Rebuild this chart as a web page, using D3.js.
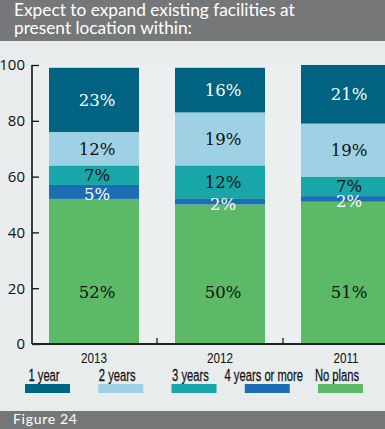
<!DOCTYPE html>
<html><head><meta charset="utf-8">
<script src="https://cdn.jsdelivr.net/npm/d3@7"></script>
<style>html,body{margin:0;padding:0;background:#e8ecec;}svg{display:block;}</style>
</head><body>
<svg id="chart" width="385" height="429"></svg>
<script>
const years = ["2013", "2012", "2011"];
const seriesNames = ["No plans", "4 years or more", "3 years", "2 years", "1 year"];
const noPlans = [52, 50, 51];
const fourYears = [5, 2, 2];
const threeYears = [7, 12, 7];
const twoYears = [12, 19, 19];
const oneYear = [23, 16, 21];
const yTicks = [0, 20, 40, 60, 80, 100];
const legendOrder = ["1 year", "2 years", "3 years", "4 years or more", "No plans"];
const colors = {"1 year":"#006381","2 years":"#9fd1e4","3 years":"#18a6a9","4 years or more":"#1c6db3","No plans":"#5cb968"};
const labelColors = {"1 year":"#fff","2 years":"#111","3 years":"#111","4 years or more":"#fff","No plans":"#111"};

const seriesValues = [noPlans, fourYears, threeYears, twoYears, oneYear];
const table = years.map((yr, i) => {
  const row = {year: yr};
  seriesNames.forEach((s, j) => row[s] = seriesValues[j][i]);
  return row;
});

const svg = d3.select("#chart");
const W = 385, H = 429;
svg.append("rect").attr("width", W).attr("height", H).attr("fill", "#e8ecec");
// title bar
svg.append("rect").attr("x",0).attr("y",0).attr("width",W).attr("height",41).attr("fill","#767779");
const title = svg.append("text").attr("fill","#fff").attr("font-family","Lato, 'Open Sans', sans-serif").attr("font-size",17.3);
title.append("tspan").attr("x",14).attr("y",15.5).text("Expect to expand existing facilities at");
title.append("tspan").attr("x",14).attr("y",33.5).text("present location within:");

const x = d3.scaleBand().domain(years).range([32, 408]).paddingInner(0.2857).paddingOuter(0.135);
const y = d3.scaleLinear().domain([0, 100]).range([344, 65]);

// plot background slightly lighter
svg.append("rect").attr("x",32).attr("y",y(100)).attr("width",W-32).attr("height",y(0)-y(100)).attr("fill","#eceff0");

const stack = d3.stack().keys(seriesNames)(table);
const g = svg.append("g");
stack.forEach(layer => {
  const key = layer.key;
  g.selectAll(null).data(layer).enter().append("rect")
    .attr("x", d => x(d.data.year))
    .attr("width", x.bandwidth())
    .attr("y", d => y(d[1]))
    .attr("height", d => y(d[0]) - y(d[1]))
    .attr("fill", colors[key]);
});
// labels
stack.forEach(layer => {
  const key = layer.key;
  g.selectAll(null).data(layer).enter().append("text")
    .attr("x", d => x(d.data.year) + x.bandwidth()/2 + 3)
    .attr("y", d => {
      if (key === "No plans") return y(18.5);
      const c = (y(d[0]) + y(d[1]))/2;
      return (d[1]-d[0] < 6) ? c + 2.5 : c;
    })
    .attr("dy", "0.36em")
    .attr("text-anchor","middle")
    .attr("font-family","'DejaVu Serif', serif")
    .attr("font-size",16.5)
    .attr("fill", labelColors[key])
    .text(d => (d[1]-d[0]) + "%");
});

// y axis
const yAxis = svg.append("g").attr("transform","translate(32,0)")
  .call(d3.axisRight(y).tickValues(yTicks).tickSize(7).tickFormat(d3.format("d")));
yAxis.select(".domain").attr("d", `M0,${y(100)}V${y(0)}`).attr("stroke","#111").attr("stroke-width",1.6);
yAxis.selectAll(".tick line").attr("stroke","#111").attr("stroke-width",1.3);
yAxis.selectAll(".tick text").attr("x",-7).attr("text-anchor","end")
  .attr("font-family","'Open Sans', sans-serif").attr("font-size",15).attr("fill","#111");

// x axis line + boundary ticks
svg.append("line").attr("x1",32).attr("x2",W).attr("y1",y(0)).attr("y2",y(0)).attr("stroke","#222").attr("stroke-width",2);
const bounds = years.slice(1).map(yr => x(yr) - x.step()*x.paddingInner()/2);
svg.selectAll(null).data(bounds).enter().append("line")
  .attr("x1", d=>d).attr("x2", d=>d).attr("y1", y(0)).attr("y2", y(0)-6)
  .attr("stroke","#222").attr("stroke-width",1.3);

const condensed = "'Liberation Sans', Arial, sans-serif";
// year labels
svg.selectAll(null).data(years).enter().append("text")
  .attr("transform", d => `translate(${x(d) + x.bandwidth()/2},363) scale(0.78,1)`)
  .attr("text-anchor","middle").attr("font-family",condensed)
  .attr("font-size",15).attr("fill","#111").text(d => d);

// legend
const lx = d3.scalePoint().domain(legendOrder).range([25, 318]);
const leg = svg.selectAll(null).data(legendOrder).enter().append("g");
leg.append("rect").attr("x", d => lx(d)).attr("y",384).attr("width",45).attr("height",9).attr("fill", d => colors[d]);
leg.append("text").attr("transform", d => `translate(${lx(d) + 19},381) scale(0.68,1)`).attr("text-anchor","middle")
  .attr("font-family",condensed).attr("font-size",16.5).attr("fill","#111")
  .attr("stroke","#111").attr("stroke-width",0.25).text(d => d);

// footer
svg.append("rect").attr("x",0).attr("y",411).attr("width",W).attr("height",H-411).attr("fill","#767779");
svg.append("text").attr("x",13).attr("y",424).attr("fill","#fff").attr("font-family","Lato, 'Open Sans', sans-serif")
  .attr("font-size",14).attr("letter-spacing",0.7).text("Figure 24");
</script>
</body></html>
